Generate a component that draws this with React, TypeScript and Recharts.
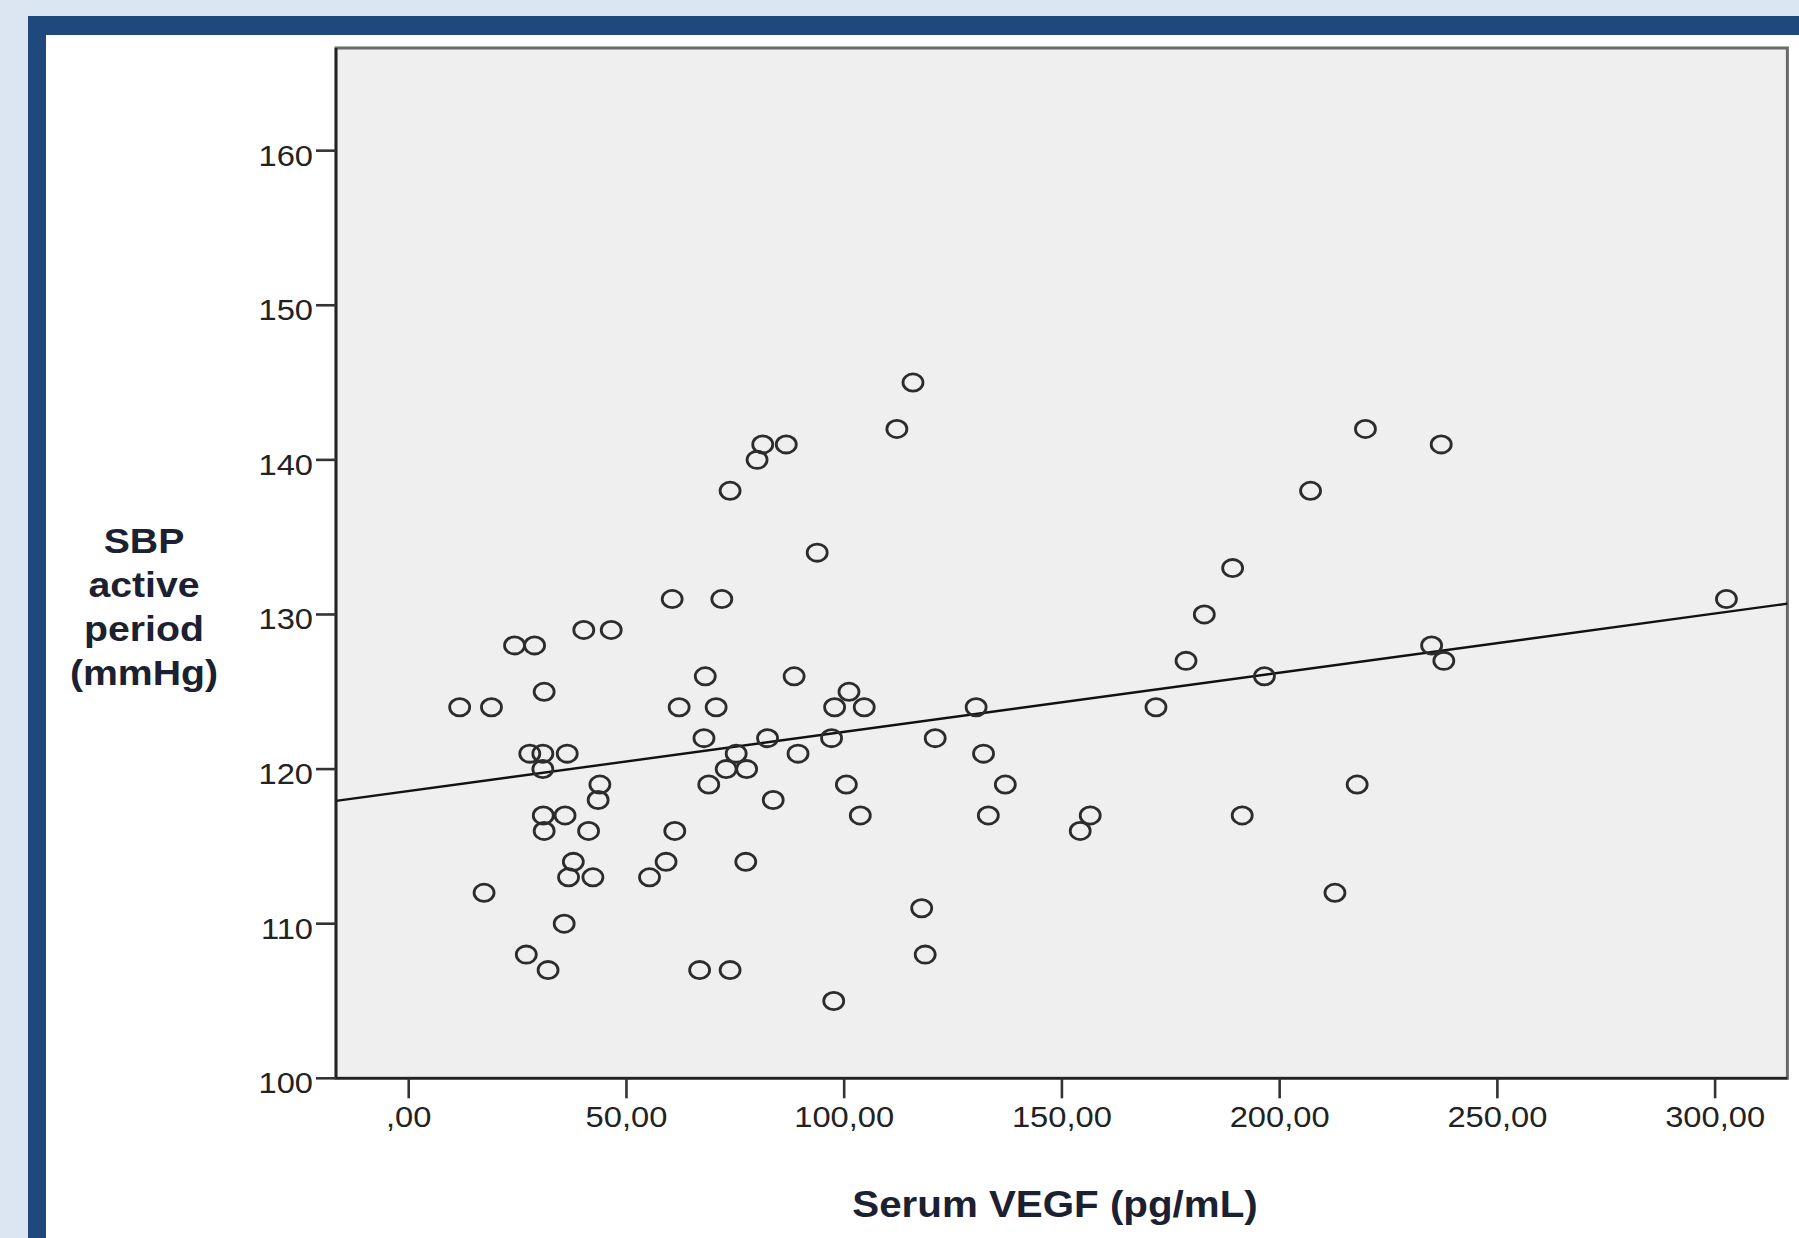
import { ReferenceArea, ReferenceLine, Scatter, ScatterChart, XAxis, YAxis } from "recharts";

// serum VEGF (pg/mL) and SBP during the active period (mmHg), one entry per patient
const vegf = [
  115.8, 112.1, 219.7, 81.3, 86.7, 237.1, 80.0, 73.8, 207.1, 93.8, 189.2, 60.5, 71.9, 302.6, 182.7,
  40.2, 46.5, 24.3, 28.9, 234.9, 178.5, 237.7, 68.1, 88.5, 196.5, 31.1, 101.1,
  11.7, 19.0, 62.1, 70.6, 97.8, 104.6, 130.3, 171.6, 67.8, 82.4, 97.1, 120.9,
  27.8, 30.8, 36.4, 75.2, 89.4, 132.0, 30.8, 72.9, 77.6, 43.9, 68.9, 100.5, 137.0, 217.8,
  43.5, 83.7, 30.9, 35.9, 103.7, 133.1, 156.5, 191.4, 31.1, 41.3, 61.1, 154.2,
  37.8, 59.1, 77.4, 36.7, 42.3, 55.3, 17.3, 212.7, 117.8, 35.7, 27.0, 118.6, 32.0, 66.8, 73.8, 97.6,
];
const sbp = [
  145, 142, 142, 141, 141, 141, 140, 138, 138, 134, 133, 131, 131, 131, 130,
  129, 129, 128, 128, 128, 127, 127, 126, 126, 126, 125, 125,
  124, 124, 124, 124, 124, 124, 124, 124, 122, 122, 122, 122,
  121, 121, 121, 121, 121, 121, 120, 120, 120, 119, 119, 119, 119, 119,
  118, 118, 117, 117, 117, 117, 117, 117, 116, 116, 116, 116,
  114, 114, 114, 113, 113, 113, 112, 112, 111, 110, 108, 108, 107, 107, 107, 105,
];

// fit line end points at the frame edges
const fitLine = [
  { x: -16.7, y: 117.94 },
  { x: 316.6, y: 130.7 },
];

const xTicks = [0, 50, 100, 150, 200, 250, 300];
const yTicks = [100, 110, 120, 130, 140, 150, 160];
const xDomain = [-16.7, 316.6];
const yDomain = [100, 166.64];

const yTitle = ["SBP", "active", "period", "(mmHg)"];
const xTitle = "Serum VEGF (pg/mL)";
const note = "r: 0.309; p=0.005";

const points = vegf.map((v, i) => ({ vegf: v, sbp: sbp[i] }));

const FONT = "'Liberation Sans', Arial, Helvetica, sans-serif";
const STRETCH = 1.09;
const INK = "#1b2130";

const spss = (v: number) => v.toFixed(2).replace(".", ",").replace(/^0/, "");

function XTick({ x, y, payload }: any) {
  return (
    <g transform={`translate(${x},${y + 29}) scale(${STRETCH},1)`}>
      <text x={0} y={0} textAnchor="middle" fontSize={30} fontFamily={FONT} fill="#222">
        {spss(payload.value)}
      </text>
    </g>
  );
}

function YTick({ x, y, payload }: any) {
  return (
    <g transform={`translate(${x},${y + 15}) scale(${STRETCH},1)`}>
      <text x={0} y={0} textAnchor="end" fontSize={30} fontFamily={FONT} fill="#222">
        {payload.value}
      </text>
    </g>
  );
}

function Ring({ cx, cy }: any) {
  return <ellipse cx={cx} cy={cy} rx={10} ry={8.6} fill="none" stroke="#2c2c2c" strokeWidth={2.8} />;
}

export default function App() {
  return (
    <div style={{ position: "absolute", left: 0, top: 0, width: 1799, height: 1238, background: "#dce6f2", overflow: "hidden" }}>
      <div
        style={{
          position: "absolute", left: 27.5, top: 16, width: 1799 - 27.5, height: 1238 - 16,
          boxSizing: "border-box", borderLeft: "18.5px solid #1f497d", borderTop: "19px solid #1f497d", background: "#fff",
        }}
      />
      <div style={{ position: "absolute", left: 0, top: 0 }}>
        <ScatterChart width={1799} height={1238} margin={{ top: 48, right: 11.6, bottom: 99.7, left: 256 }}>
          <XAxis
            type="number" dataKey="vegf" domain={xDomain} ticks={xTicks} allowDataOverflow height={60}
            tickSize={20} tickMargin={0} tick={<XTick />}
            axisLine={{ stroke: "#222", strokeWidth: 2.6 }} tickLine={{ stroke: "#333", strokeWidth: 2.6 }}
          />
          <YAxis
            type="number" dataKey="sbp" domain={yDomain} ticks={yTicks} allowDataOverflow width={80}
            tickSize={20} tickMargin={3} tick={<YTick />}
            axisLine={{ stroke: "#222", strokeWidth: 2.6 }} tickLine={{ stroke: "#333", strokeWidth: 2.6 }}
          />
          <ReferenceArea
            x1={xDomain[0]} x2={xDomain[1]} y1={yDomain[0]} y2={yDomain[1]}
            fill="#efefef" fillOpacity={1} stroke="#6a6a6a" strokeWidth={3}
          />
          <ReferenceLine segment={fitLine} stroke="#111" strokeWidth={2.4} />
          <Scatter data={points} shape={<Ring />} isAnimationActive={false} />

          {yTitle.map((t, i) => (
            <g key={t} transform={`translate(144,${553 + i * 44}) scale(${STRETCH},1)`}>
              <text x={0} y={0} textAnchor="middle" fontSize={36} fontWeight="bold" fontFamily={FONT} fill={INK}>
                {t}
              </text>
            </g>
          ))}
          <g transform={`translate(1055,1216.7) scale(${STRETCH},1)`}>
            <text x={0} y={0} textAnchor="middle" fontSize={37} fontWeight="bold" fontFamily={FONT} fill={INK}>
              {xTitle}
            </text>
          </g>
          <g transform={`translate(1703,131.7) scale(1.07,1)`}>
            <text x={0} y={0} textAnchor="end" fontSize={37} fontWeight="bold" fontFamily={FONT} fill={INK}>
              {note}
            </text>
          </g>
        </ScatterChart>
      </div>
    </div>
  );
}
